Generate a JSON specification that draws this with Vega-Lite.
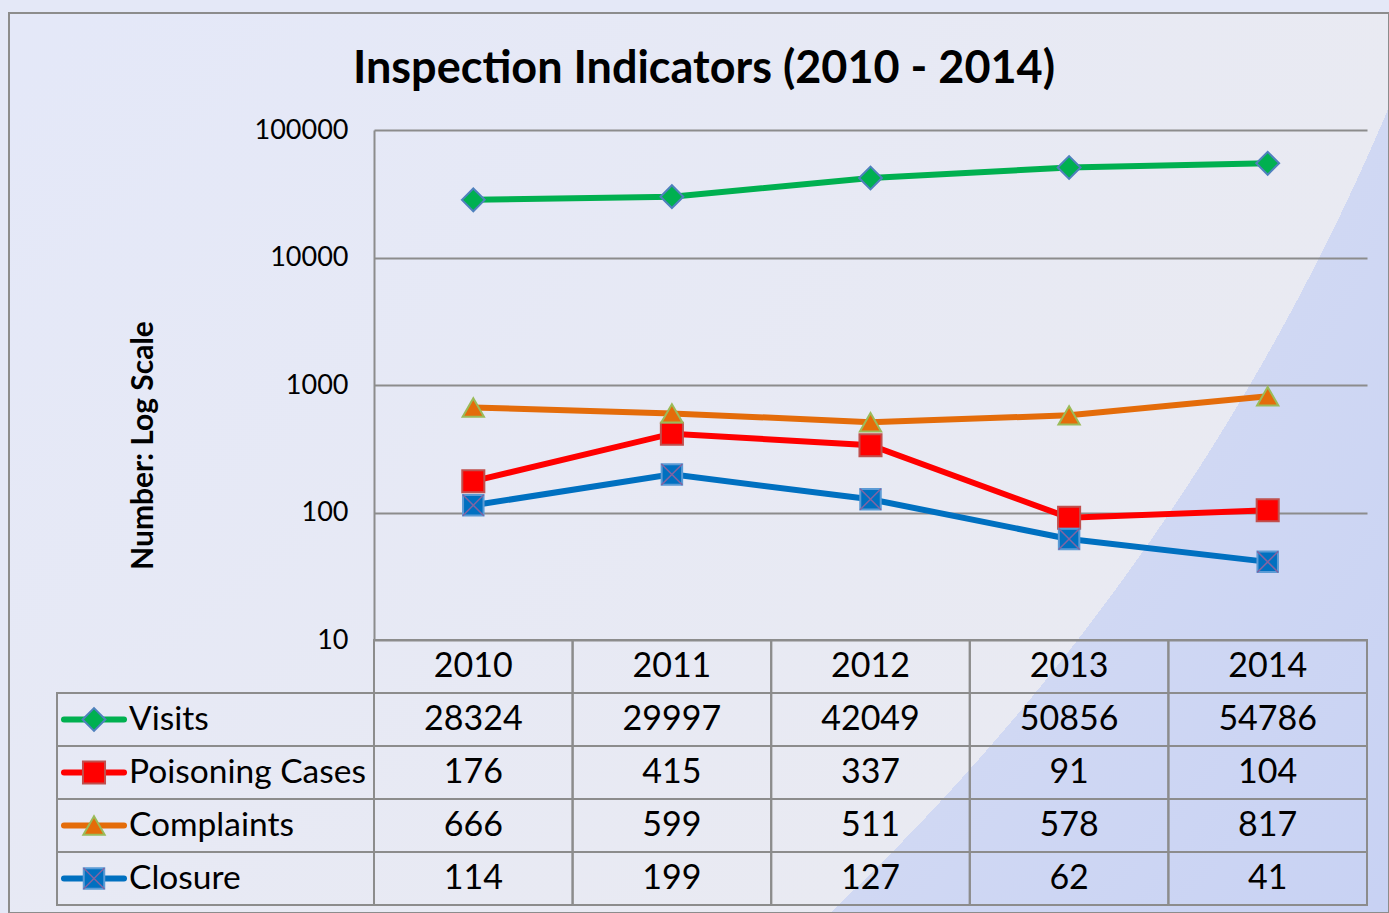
{
  "$schema": "https://vega.github.io/schema/vega-lite/v6.json",
  "width": 1380,
  "height": 900,
  "autosize": {"type": "none"},
  "padding": {"left": 9, "top": 13, "right": 0, "bottom": 0},
  "background": "#E4E8F7",
  "config": {
    "font": "Lato",
    "view": {
      "stroke": "#8C8C8C",
      "strokeWidth": 2,
      "fill": {"gradient": "radial", "x1": -0.5887, "y1": -0.4273, "r1": 0, "x2": -0.5887, "y2": -0.4273, "r2": 2.2, "stops": [{"offset": 0, "color": "#E4E8F8"}, {"offset": 0.4, "color": "#E4E8F8"}, {"offset": 0.7836, "color": "#E9EAF2"}, {"offset": 0.7836, "color": "#D0D8F3"}, {"offset": 1, "color": "#C3CEF3"}]}
    }
  },
  "title": {
    "text": "Inspection Indicators (2010 - 2014)",
    "frame": "group",
    "anchor": "middle",
    "fontSize": 45,
    "fontWeight": "bold",
    "font": "Lato",
    "color": "#000000",
    "offset": -71,
    "baseline": "alphabetic",
    "dx": 5,
    "dy": 44
  },
  "datasets": {
    "values": [
      {"series": "Visits", "year": "2010", "value": 28324},
      {"series": "Visits", "year": "2011", "value": 29997},
      {"series": "Visits", "year": "2012", "value": 42049},
      {"series": "Visits", "year": "2013", "value": 50856},
      {"series": "Visits", "year": "2014", "value": 54786},
      {"series": "Poisoning Cases", "year": "2010", "value": 176},
      {"series": "Poisoning Cases", "year": "2011", "value": 415},
      {"series": "Poisoning Cases", "year": "2012", "value": 337},
      {"series": "Poisoning Cases", "year": "2013", "value": 91},
      {"series": "Poisoning Cases", "year": "2014", "value": 104},
      {"series": "Complaints", "year": "2010", "value": 666},
      {"series": "Complaints", "year": "2011", "value": 599},
      {"series": "Complaints", "year": "2012", "value": 511},
      {"series": "Complaints", "year": "2013", "value": 578},
      {"series": "Complaints", "year": "2014", "value": 817},
      {"series": "Closure", "year": "2010", "value": 114},
      {"series": "Closure", "year": "2011", "value": 199},
      {"series": "Closure", "year": "2012", "value": 127},
      {"series": "Closure", "year": "2013", "value": 62},
      {"series": "Closure", "year": "2014", "value": 41}
    ],
    "years": [{"year": "2010"}, {"year": "2011"}, {"year": "2012"}, {"year": "2013"}, {"year": "2014"}],
    "series": [{"series": "Visits"}, {"series": "Poisoning Cases"}, {"series": "Complaints"}, {"series": "Closure"}]
  },
  "resolve": {"scale": {"x": "independent", "y": "independent"}, "axis": {"x": "independent", "y": "independent"}},
  "layer": [
    {
      "data": {"name": "values"},
      "encoding": {
        "x": {"field": "year", "type": "ordinal", "scale": {"type": "band", "domain": ["2010", "2011", "2012", "2013", "2014"], "range": [365, 1358], "paddingInner": 0, "paddingOuter": 0}, "axis": null},
        "y": {
          "field": "value", "type": "quantitative",
          "scale": {"type": "log", "domain": [10, 100000], "range": [627, 117], "nice": false},
          "axis": {
            "orient": "left",
            "values": [10, 100, 1000, 10000, 100000], "format": "d",
            "offset": -365, "ticks": false, "tickSize": 0,
            "labelPadding": 26, "labelFontSize": 27, "labelColor": "#000000", "labelFont": "Lato",
            "domainColor": "#8C8C8C", "domainWidth": 2,
            "grid": true, "gridColor": "#8C8C8C", "gridWidth": 2, "gridOpacity": 1,
            "title": "Number: Log Scale", "titleFontSize": 30, "titleFontWeight": "bold", "titleColor": "#000000", "titleFont": "Lato",
            "titleX": -222, "titleY": 432, "titleAngle": -90, "titleAlign": "center", "titleBaseline": "alphabetic"
          }
        }
      },
      "layer": [
        {
          "mark": {"type": "line", "strokeWidth": 6},
          "encoding": {
            "color": {"field": "series", "type": "nominal", "scale": {"domain": ["Visits", "Poisoning Cases", "Complaints", "Closure"], "range": ["#00B050", "#FF0000", "#E46C0A", "#0070C0"]}, "legend": null}
          }
        },
        {
          "mark": {"type": "point", "filled": true, "opacity": 1, "strokeWidth": 2},
          "encoding": {
            "shape": {"field": "series", "type": "nominal", "scale": {"domain": ["Visits", "Poisoning Cases", "Complaints", "Closure"], "range": ["diamond", "square", "triangle-up", "square"]}, "legend": null},
            "fill": {"field": "series", "type": "nominal", "scale": {"domain": ["Visits", "Poisoning Cases", "Complaints", "Closure"], "range": ["#00B050", "#FF0000", "#E46C0A", "#0070C0"]}, "legend": null},
            "stroke": {"field": "series", "type": "nominal", "scale": {"domain": ["Visits", "Poisoning Cases", "Complaints", "Closure"], "range": ["#4F81BD", "#C0504D", "#9BBB59", "#5B9BD5"]}, "legend": null},
            "size": {"field": "series", "type": "ordinal", "scale": {"domain": ["Visits", "Poisoning Cases", "Complaints", "Closure"], "range": [520, 420, 540, 529]}, "legend": null}
          }
        },
        {
          "transform": [{"filter": "datum.series === 'Closure'"}],
          "mark": {"type": "point", "shape": "M-1,-1L1,1M-1,1L1,-1", "filled": false, "stroke": "#8064A2", "strokeWidth": 1.5, "size": 440, "opacity": 1}
        }
      ]
    },
    {
      "encoding": {
        "x": {"field": "year", "type": "ordinal", "scale": {"type": "band", "domain": ["2010", "2011", "2012", "2013", "2014"], "range": [365, 1358], "paddingInner": 0, "paddingOuter": 0}, "axis": null}
      },
      "layer": [
        {
          "data": {"name": "values"},
          "encoding": {
            "y": {"field": "series", "type": "nominal", "scale": {"type": "band", "domain": ["hdr", "Visits", "Poisoning Cases", "Complaints", "Closure"], "range": [627, 892], "paddingInner": 0, "paddingOuter": 0}, "axis": null}
          },
          "layer": [
            {"mark": {"type": "rect", "fill": "transparent", "stroke": "#8C8C8C", "strokeWidth": 2}},
            {"mark": {"type": "text", "fontSize": 34, "font": "Lato", "color": "#000000", "baseline": "middle"}, "encoding": {"text": {"field": "value", "type": "quantitative", "format": "d"}}}
          ]
        },
        {
          "data": {"name": "years"},
          "encoding": {
            "y": {"datum": "hdr", "type": "nominal", "scale": {"type": "band", "domain": ["hdr", "Visits", "Poisoning Cases", "Complaints", "Closure"], "range": [627, 892], "paddingInner": 0, "paddingOuter": 0}, "axis": null}
          },
          "layer": [
            {"mark": {"type": "rect", "fill": "transparent", "stroke": "#8C8C8C", "strokeWidth": 2}},
            {"mark": {"type": "text", "fontSize": 34, "font": "Lato", "color": "#000000", "baseline": "middle"}, "encoding": {"text": {"field": "year", "type": "nominal"}}}
          ]
        }
      ]
    },
    {
      "data": {"name": "series"},
      "encoding": {
        "x": {"datum": "label", "type": "nominal", "bandPosition": 0, "scale": {"type": "band", "domain": ["label"], "range": [48, 365], "paddingInner": 0, "paddingOuter": 0}, "axis": null},
        "y": {"field": "series", "type": "nominal", "scale": {"type": "band", "domain": ["hdr", "Visits", "Poisoning Cases", "Complaints", "Closure"], "range": [627, 892], "paddingInner": 0, "paddingOuter": 0}, "axis": null}
      },
      "layer": [
        {"mark": {"type": "rect", "fill": "transparent", "stroke": "#8C8C8C", "strokeWidth": 2}, "encoding": {"x": {"datum": "label", "type": "nominal"}}},
        {
          "mark": {"type": "point", "shape": "M-1,0L1,0", "filled": false, "strokeWidth": 6, "strokeCap": "round", "size": 3600, "xOffset": 37, "opacity": 1},
          "encoding": {"color": {"field": "series", "type": "nominal", "legend": null}}
        },
        {
          "mark": {"type": "point", "filled": true, "opacity": 1, "strokeWidth": 2, "xOffset": 37},
          "encoding": {
            "shape": {"field": "series", "type": "nominal", "legend": null},
            "fill": {"field": "series", "type": "nominal", "legend": null},
            "stroke": {"field": "series", "type": "nominal", "legend": null},
            "size": {"field": "series", "type": "ordinal", "legend": null}
          }
        },
        {
          "transform": [{"filter": "datum.series === 'Closure'"}],
          "mark": {"type": "point", "shape": "M-1,-1L1,1M-1,1L1,-1", "filled": false, "stroke": "#8064A2", "strokeWidth": 1.5, "size": 440, "opacity": 1, "xOffset": 37}
        },
        {
          "mark": {"type": "text", "fontSize": 33.5, "font": "Lato", "color": "#000000", "baseline": "middle", "align": "left", "dx": 72},
          "encoding": {"text": {"field": "series", "type": "nominal"}}
        }
      ]
    }
  ]
}
